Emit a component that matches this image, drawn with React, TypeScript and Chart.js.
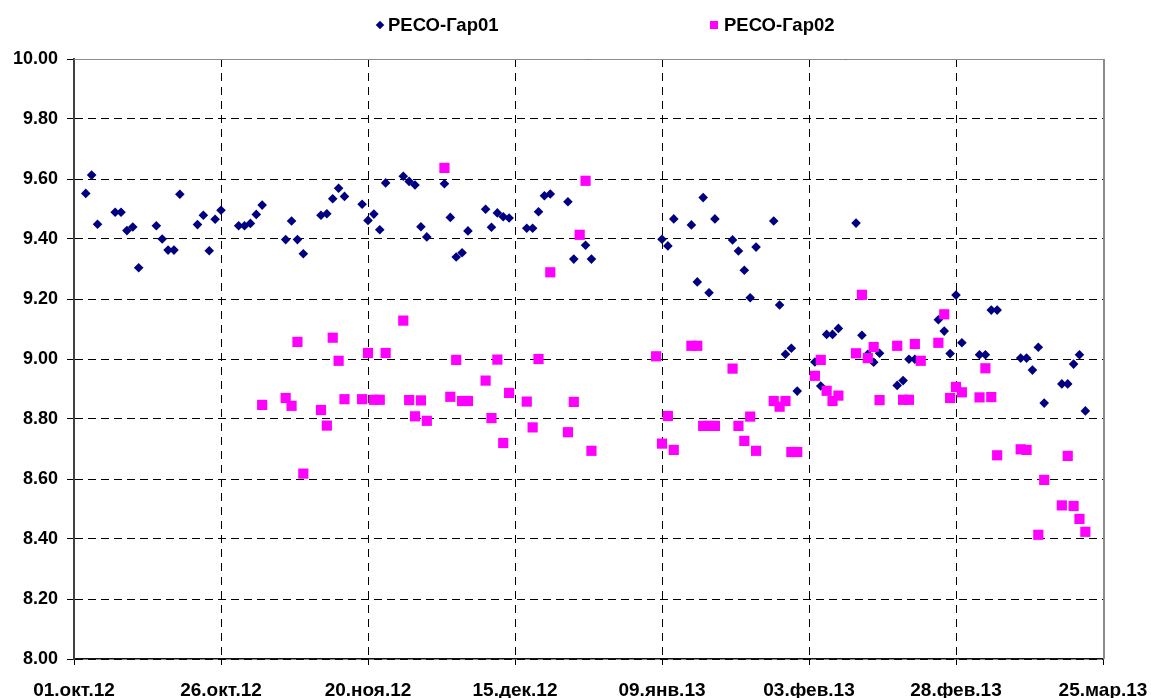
import React, { useEffect, useRef } from "react";
import { Chart, registerables } from "chart.js";

Chart.register(...registerables);

// x values: days counted from 01.10.2012
const xTickLabels = ["01.окт.12", "26.окт.12", "20.ноя.12", "15.дек.12", "09.янв.13", "03.фев.13", "28.фев.13", "25.мар.13"];
const xTickStepDays = 25;
const yMin = 8;
const yMax = 10;
const yStep = 0.2;
const seriesNames = ["РЕСО-Гар01", "РЕСО-Гар02"];

const gar01Days = [
  2, 3, 4, 7, 8, 9, 10, 11, 14, 15, 16, 17, 18, 21, 22, 23, 24, 25, 28, 29, 30, 31, 32,
  36, 37, 38, 39, 42, 43, 44, 45, 46, 49, 50, 51, 52, 53, 56, 57, 58, 59, 60, 63, 64, 65, 66, 67,
  70, 71, 72, 73, 74, 77, 78, 79, 80, 81, 84, 85, 87, 88,
  100, 101, 102, 105, 106, 107, 108, 109, 112, 113, 114, 115, 116, 119, 120, 121, 122, 123,
  126, 127, 128, 129, 130, 133, 134, 135, 136, 137, 140, 141, 142, 143, 147, 148, 149, 150, 151,
  154, 155, 156, 157, 161, 162, 163, 164, 165, 168, 169, 170, 171, 172,
];
const gar01Values = [
  9.552, 9.613, 9.449, 9.489, 9.489, 9.428, 9.44, 9.304, 9.444, 9.4, 9.363, 9.363, 9.549, 9.448, 9.479, 9.361, 9.466, 9.496, 9.444, 9.444, 9.452, 9.482, 9.513,
  9.398, 9.46, 9.398, 9.351, 9.479, 9.484, 9.534, 9.569, 9.542, 9.516, 9.462, 9.483, 9.431, 9.587, 9.609, 9.592, 9.58, 9.441, 9.407, 9.584, 9.472, 9.34, 9.354, 9.427,
  9.499, 9.439, 9.487, 9.474, 9.47, 9.436, 9.436, 9.491, 9.544, 9.55, 9.524, 9.333, 9.379, 9.333,
  9.399, 9.377, 9.467, 9.447, 9.257, 9.538, 9.221, 9.467, 9.397, 9.36, 9.296, 9.204, 9.373, 9.46, 9.18, 9.016, 9.036, 8.893,
  8.99, 8.91, 9.082, 9.082, 9.102, 9.453, 9.079, 9.016, 8.989, 9.019, 8.912, 8.928, 8.999, 8.999, 9.131, 9.093, 9.018, 9.213, 9.054,
  9.014, 9.014, 9.163, 9.163, 9.003, 9.003, 8.963, 9.039, 8.853, 8.917, 8.917, 8.983, 9.014, 8.827,
];

const gar02Days = [
  32, 36, 37, 38, 39, 42, 43, 44, 45, 46, 49, 50, 51, 52, 53, 56, 57, 58, 59, 60, 63, 64, 65, 66, 67,
  70, 71, 72, 73, 74, 77, 78, 79, 81, 84, 85, 86, 87, 88,
  99, 100, 101, 102, 105, 106, 107, 108, 109, 112, 113, 114, 115, 116, 119, 120, 121, 122, 123,
  126, 127, 128, 129, 130, 133, 134, 135, 136, 137, 140, 141, 142, 143, 144, 147, 148, 149, 150, 151,
  154, 155, 156, 157, 161, 162, 164, 165, 168, 169, 170, 171, 172,
];
const gar02Values = [
  8.847, 8.87, 8.844, 9.057, 8.618, 8.83, 8.778, 9.071, 8.994, 8.866, 8.866, 9.02, 8.864, 8.864, 9.02, 9.128, 8.863, 8.809, 8.862, 8.794, 9.637, 8.874, 8.997, 8.86, 8.86,
  8.928, 8.803, 8.998, 8.72, 8.887, 8.858, 8.772, 9.0, 9.289, 8.756, 8.857, 9.414, 9.594, 8.694,
  9.009, 8.718, 8.81, 8.697, 9.044, 9.044, 8.777, 8.777, 8.777, 8.968, 8.777, 8.727, 8.808, 8.694, 8.86, 8.841, 8.86, 8.69, 8.69,
  8.944, 8.997, 8.894, 8.86, 8.878, 9.019, 9.214, 9.003, 9.04, 8.863, 9.044, 8.864, 8.864, 9.05, 8.994, 9.054, 9.149, 8.87, 8.907, 8.889,
  8.872, 8.969, 8.873, 8.679, 8.699, 8.697, 8.414, 8.597, 8.512, 8.677, 8.51, 8.467, 8.424,
];

const FONT = 'Arial, "Liberation Sans", sans-serif';
const NAVY = "#000080";
const MAGENTA = "#FF00FF";

const framePlugin = {
  id: "frameLines",
  beforeDatasetsDraw(chart: any) {
    const { ctx, chartArea } = chart;
    const { left, right, top, bottom } = chartArea;
    ctx.save();
    ctx.strokeStyle = "#8c8c8c";
    ctx.lineWidth = 1;
    ctx.beginPath();
    ctx.moveTo(left, top + 0.5);
    ctx.lineTo(right, top + 0.5);
    ctx.stroke();
    ctx.lineWidth = 2;
    ctx.beginPath();
    ctx.moveTo(right + 1, top);
    ctx.lineTo(right + 1, bottom);
    ctx.stroke();
    ctx.restore();
  },
};

export default function App() {
  const canvasRef = useRef<HTMLCanvasElement | null>(null);

  useEffect(() => {
    document.body.style.margin = "0";
    const canvas = canvasRef.current;
    if (!canvas) return;
    const toPoints = (days: number[], vals: number[]) => days.map((d, i) => ({ x: d, y: vals[i] }));
    const xMax = xTickStepDays * (xTickLabels.length - 1);

    const chart = new Chart(canvas, {
      type: "scatter",
      data: {
        datasets: [
          {
            label: seriesNames[0],
            data: toPoints(gar01Days, gar01Values),
            pointStyle: "rectRot",
            pointRadius: 4.8,
            pointBorderWidth: 0,
            backgroundColor: NAVY,
            borderColor: NAVY,
            order: 1,
          },
          {
            label: seriesNames[1],
            data: toPoints(gar02Days, gar02Values),
            pointStyle: "rect",
            pointRadius: 7.2,
            pointBorderWidth: 0,
            backgroundColor: MAGENTA,
            borderColor: MAGENTA,
            order: 0,
          },
        ],
      },
      options: {
        animation: false,
        responsive: false,
        maintainAspectRatio: false,
        layout: { padding: { top: 59, right: 48, left: 0, bottom: 0 } },
        plugins: {
          legend: { display: false },
          tooltip: { enabled: false },
        },
        scales: {
          x: {
            type: "linear",
            min: 0,
            max: xMax,
            afterFit: (scale: any) => {
              scale.height = 39;
              scale.paddingLeft = 0;
              scale.paddingRight = 0;
            },
            ticks: {
              stepSize: xTickStepDays,
              autoSkip: false,
              maxRotation: 0,
              padding: 14,
              color: "#000",
              font: { family: FONT, size: 19, weight: "bold" },
              callback: (v: any) => xTickLabels[Math.round(Number(v) / xTickStepDays)] ?? "",
            },
            grid: {
              color: "#000",
              lineWidth: 1,
              tickLength: 6,
              tickColor: "#000",
              tickWidth: 1,
              tickBorderDash: [],
            },
            border: { display: true, color: "#111", width: 1.5, dash: [8, 6] },
          },
          y: {
            min: yMin,
            max: yMax,
            afterFit: (scale: any) => {
              scale.width = 74;
            },
            ticks: {
              stepSize: yStep,
              padding: 9,
              color: "#000",
              font: { family: FONT, size: 18, weight: "bold" },
              callback: (v: any) => Number(v).toFixed(2),
            },
            grid: {
              color: "#000",
              lineWidth: 1,
              tickLength: 7,
              tickColor: "#000",
              tickWidth: 1,
              tickBorderDash: [],
            },
            border: { display: true, color: "#404040", width: 2, dash: [8, 5] },
          },
        },
      },
      plugins: [framePlugin],
    } as any);

    return () => chart.destroy();
  }, []);

  const textStyle: React.CSSProperties = {
    position: "absolute",
    top: 16,
    fontFamily: FONT,
    fontWeight: "bold",
    fontSize: 18.5,
    lineHeight: "18px",
    color: "#000",
    whiteSpace: "nowrap",
  };

  return (
    <div style={{ position: "relative", width: 1151, height: 698 }}>
      <canvas ref={canvasRef} width={1151} height={698} style={{ display: "block", width: 1151, height: 698 }} />
      <div
        style={{
          position: "absolute",
          left: 377,
          top: 22,
          width: 6,
          height: 6,
          background: NAVY,
          transform: "rotate(45deg)",
        }}
      />
      <div style={{ ...textStyle, left: 388 }}>{seriesNames[0]}</div>
      <div
        style={{
          position: "absolute",
          left: 710,
          top: 21,
          width: 8,
          height: 8,
          background: MAGENTA,
        }}
      />
      <div style={{ ...textStyle, left: 724 }}>{seriesNames[1]}</div>
    </div>
  );
}
